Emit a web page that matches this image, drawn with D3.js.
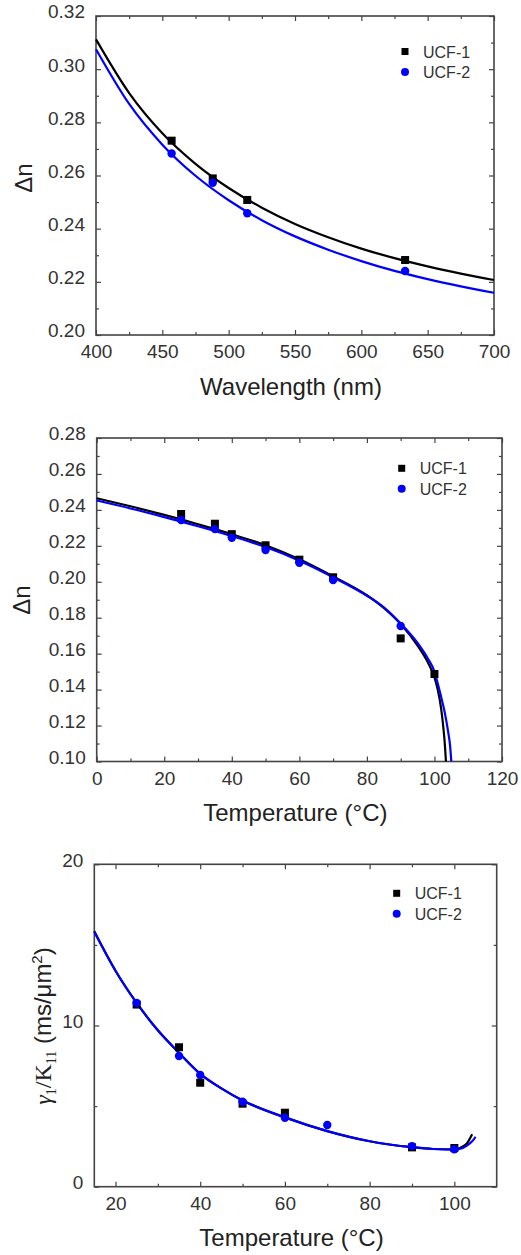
<!DOCTYPE html>
<meta charset="utf-8">
<style>
body { margin: 0; background: #fff; }
text { font-family: "Liberation Sans", Arial, sans-serif; }
.tick text { fill: #333; font-size: 19px; }
.tick line { stroke: #444; stroke-width: 1.2px; }
.frame { fill: none; stroke: #444; stroke-width: 1.6px; }
.fit { fill: none; stroke-width: 2.2px; }
.title { fill: #222; font-size: 24px; }
.legend { fill: #333; font-size: 16px; }
</style>
<body>
<script src="https://cdnjs.cloudflare.com/ajax/libs/d3/7.8.5/d3.min.js"></script>
<script>

// ---- panel 1 : birefringence vs wavelength ----
var wavelengths = [457, 488, 514, 633];
var dnWaveUCF1 = [0.2731, 0.2589, 0.2508, 0.2282];
var dnWaveUCF2 = [0.2683, 0.2573, 0.2458, 0.2241];
var waveFit = [400, 425, 450, 475, 500, 525, 550, 575, 600, 625, 650, 675, 700];
var dnWaveFitUCF1 = [0.3112, 0.2910, 0.2759, 0.2644, 0.2553, 0.2479, 0.2418, 0.2368, 0.2325, 0.2289, 0.2258, 0.2231, 0.2207];
var dnWaveFitUCF2 = [0.3075, 0.2869, 0.2716, 0.2599, 0.2507, 0.2432, 0.2371, 0.2321, 0.2278, 0.2241, 0.2210, 0.2183, 0.2159];

// ---- panel 2 : birefringence vs temperature ----
var tempUCF1 = [25, 35, 40, 50, 60, 70, 90, 100];
var dnTempUCF1 = [0.2377, 0.2323, 0.2265, 0.2203, 0.2123, 0.2025, 0.1685, 0.1487];
var tempUCF2 = [25, 35, 40, 50, 60, 70, 90];
var dnTempUCF2 = [0.2344, 0.2293, 0.2245, 0.2177, 0.2106, 0.2010, 0.1754];
var tempFitUCF1 = [0, 10, 20, 30, 40, 50, 60, 70, 80, 85, 90, 95, 98, 100, 101, 102, 102.6, 103.1, 103.4];
var dnTempFitUCF1 = [0.2465, 0.2420, 0.2372, 0.2320, 0.2265, 0.2203, 0.2125, 0.2030, 0.1925, 0.1855, 0.1765, 0.1645, 0.1553, 0.1468, 0.1398, 0.1292, 0.1195, 0.1090, 0.1000];
var tempFitUCF2 = [0, 10, 20, 30, 40, 50, 60, 70, 80, 85, 90, 95, 98, 100, 101, 102, 103, 104, 104.6, 105.0];
var dnTempFitUCF2 = [0.2452, 0.2408, 0.2360, 0.2309, 0.2254, 0.2193, 0.2117, 0.2025, 0.1922, 0.1858, 0.1768, 0.1660, 0.1575, 0.1500, 0.1432, 0.1357, 0.1277, 0.1172, 0.1092, 0.1000];

// ---- panel 3 : visco-elastic coefficient vs temperature ----
var viscTempUCF1 = [25, 35, 40, 50, 60, 90, 100];
var viscUCF1 = [11.3, 8.65, 6.45, 5.15, 4.59, 2.44, 2.40];
var viscTempUCF2 = [25, 35, 40, 50, 60, 70, 90, 100];
var viscUCF2 = [11.4, 8.11, 6.93, 5.27, 4.28, 3.83, 2.52, 2.32];
var viscFitT1 = [15, 20, 25, 30, 35, 40, 45, 50, 60, 70, 80, 90, 95, 100, 101, 102, 103, 104.2];
var viscFitUCF1 = [15.85, 13.4, 11.4, 9.7, 8.3, 7.0, 6.1, 5.35, 4.3, 3.45, 2.82, 2.45, 2.34, 2.31, 2.36, 2.5, 2.7, 3.25];
var viscFitT2 = [15, 20, 25, 30, 35, 40, 45, 50, 60, 70, 80, 90, 95, 100, 102, 103.5, 104.5, 105];
var viscFitUCF2 = [15.8, 13.4, 11.4, 9.7, 8.3, 7.0, 6.1, 5.35, 4.3, 3.45, 2.82, 2.45, 2.34, 2.3, 2.4, 2.65, 2.9, 3.1];

var svg = d3.select("body").append("svg")
    .attr("width", 521)
    .attr("height", 1255);

function zip(xs, ys) { return xs.map(function(v, i) { return [v, ys[i]]; }); }

function panel(o) {
  var g = svg.append("g");
  var x = d3.scaleLinear().domain(o.xDom).range([o.left, o.right]);
  var y = d3.scaleLinear().domain(o.yDom).range([o.bottom, o.top]);

  // ticks, all pointing inward, mirrored on top and right
  g.append("g").attr("transform", "translate(0," + o.bottom + ")")
      .call(d3.axisBottom(x).tickValues(o.xMinor).tickSize(-3).tickFormat(""));
  g.append("g").attr("transform", "translate(0," + o.bottom + ")")
      .call(d3.axisBottom(x).tickValues(o.xMajor).tickSize(-5).tickPadding(10).tickFormat(o.xFmt));
  g.append("g").attr("transform", "translate(0," + o.top + ")")
      .call(d3.axisTop(x).tickValues(o.xMinor).tickSize(-3).tickFormat(""));
  g.append("g").attr("transform", "translate(0," + o.top + ")")
      .call(d3.axisTop(x).tickValues(o.xMajor).tickSize(-5).tickFormat(""));
  g.append("g").attr("transform", "translate(" + o.left + ",0)")
      .call(d3.axisLeft(y).tickValues(o.yMinor).tickSize(-3).tickFormat(""));
  var yl = g.append("g").attr("transform", "translate(" + o.left + ",0)")
      .call(d3.axisLeft(y).tickValues(o.yMajor).tickSize(-5).tickPadding(11).tickFormat(o.yFmt));
  yl.selectAll("text").attr("dy", "0.1em");
  g.append("g").attr("transform", "translate(" + o.right + ",0)")
      .call(d3.axisRight(y).tickValues(o.yMinor).tickSize(-3).tickFormat(""));
  g.append("g").attr("transform", "translate(" + o.right + ",0)")
      .call(d3.axisRight(y).tickValues(o.yMajor).tickSize(-5).tickFormat(""));
  g.selectAll(".domain").remove();

  g.append("rect").attr("class", "frame")
      .attr("x", o.left).attr("y", o.top)
      .attr("width", o.right - o.left).attr("height", o.bottom - o.top);

  var line = d3.line()
      .x(function(d) { return x(d[0]); })
      .y(function(d) { return y(d[1]); })
      .curve(d3.curveMonotoneX);

  g.append("path").datum(o.fit1).attr("class", "fit").attr("stroke", "#000").attr("d", line);
  g.append("path").datum(o.fit2).attr("class", "fit").attr("stroke", "#0000ff").attr("d", line);

  g.selectAll(".sq").data(o.pts1).enter().append("rect")
      .attr("x", function(d) { return x(d[0]) - 4; })
      .attr("y", function(d) { return y(d[1]) - 4; })
      .attr("width", 8).attr("height", 8)
      .attr("fill", "#000");
  g.selectAll(".ci").data(o.pts2).enter().append("circle")
      .attr("cx", function(d) { return x(d[0]); })
      .attr("cy", function(d) { return y(d[1]); })
      .attr("r", 4.2)
      .attr("fill", "#0000ff");

  // legend
  g.append("rect").attr("x", o.legX - 3.5).attr("y", o.legY - 3.5)
      .attr("width", 7).attr("height", 7).attr("fill", "#000");
  g.append("circle").attr("cx", o.legX).attr("cy", o.legY + 20.5).attr("r", 4).attr("fill", "#0000ff");
  g.append("text").attr("class", "legend").attr("x", o.legX + 18).attr("y", o.legY + 6).text("UCF-1");
  g.append("text").attr("class", "legend").attr("x", o.legX + 18).attr("y", o.legY + 26.5).text("UCF-2");

  // axis titles
  g.append("text").attr("class", "title")
      .attr("x", (o.left + o.right) / 2 - 4).attr("y", o.xTitleY)
      .attr("text-anchor", "middle").text(o.xTitle);
  return g;
}

panel({
  left: 96, right: 494, top: 16, bottom: 335,
  xDom: [400, 700], yDom: [0.20, 0.32],
  xMajor: d3.range(400, 701, 50), xMinor: d3.range(425, 700, 50),
  yMajor: d3.range(0, 7).map(function(i) { return 0.20 + i * 0.02; }),
  yMinor: d3.range(0, 6).map(function(i) { return 0.21 + i * 0.02; }),
  xFmt: d3.format("d"), yFmt: d3.format(".2f"),
  fit1: zip(waveFit, dnWaveFitUCF1), fit2: zip(waveFit, dnWaveFitUCF2),
  pts1: zip(wavelengths, dnWaveUCF1), pts2: zip(wavelengths, dnWaveUCF2),
  legX: 405, legY: 51.5,
  xTitle: "Wavelength (nm)", xTitleY: 395
});
svg.append("text").attr("class", "title")
    .attr("transform", "translate(32,178) rotate(-90)")
    .attr("text-anchor", "middle").text("Δn");

panel({
  left: 96.7, right: 502, top: 438, bottom: 761.5,
  xDom: [0, 120], yDom: [0.10, 0.28],
  xMajor: d3.range(0, 121, 20), xMinor: d3.range(10, 120, 20),
  yMajor: d3.range(0, 10).map(function(i) { return 0.10 + i * 0.02; }),
  yMinor: d3.range(0, 9).map(function(i) { return 0.11 + i * 0.02; }),
  xFmt: d3.format("d"), yFmt: d3.format(".2f"),
  fit1: zip(tempFitUCF1, dnTempFitUCF1), fit2: zip(tempFitUCF2, dnTempFitUCF2),
  pts1: zip(tempUCF1, dnTempUCF1), pts2: zip(tempUCF2, dnTempUCF2),
  legX: 401.7, legY: 468.3,
  xTitle: "Temperature (°C)", xTitleY: 821
});
svg.append("text").attr("class", "title")
    .attr("transform", "translate(30,600) rotate(-90)")
    .attr("text-anchor", "middle").text("Δn");

panel({
  left: 94.3, right: 496.7, top: 864.3, bottom: 1186.7,
  xDom: [15, 110], yDom: [0, 20],
  xMajor: [20, 40, 60, 80, 100], xMinor: [30, 50, 70, 90],
  yMajor: [0, 10, 20], yMinor: [5, 15],
  xFmt: d3.format("d"), yFmt: d3.format("d"),
  fit1: zip(viscFitT1, viscFitUCF1), fit2: zip(viscFitT2, viscFitUCF2),
  pts1: zip(viscTempUCF1, viscUCF1), pts2: zip(viscTempUCF2, viscUCF2),
  legX: 396.7, legY: 893.3,
  xTitle: "Temperature (°C)", xTitleY: 1246
});

var yt = svg.append("text").attr("class", "title")
    .attr("transform", "translate(51,1026) rotate(-90)")
    .attr("text-anchor", "middle");
yt.append("tspan").attr("font-family", "Liberation Serif, serif").attr("font-style", "italic").text("γ");
yt.append("tspan").attr("font-family", "Liberation Serif, serif").attr("font-size", "14px").attr("dy", 5).text("1");
yt.append("tspan").attr("font-family", "Liberation Serif, serif").attr("dy", -5).text("/K");
yt.append("tspan").attr("font-family", "Liberation Serif, serif").attr("font-size", "14px").attr("dy", 5).text("11");
yt.append("tspan").attr("dy", -5).text(" (ms/μm");
yt.append("tspan").attr("font-size", "15px").attr("dy", -9).text("2");
yt.append("tspan").attr("dy", 9).text(")");

</script>
</body>
